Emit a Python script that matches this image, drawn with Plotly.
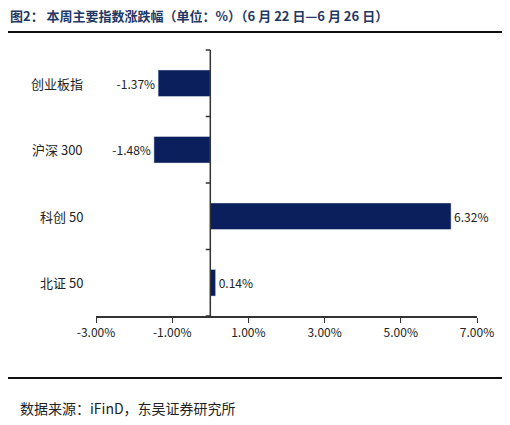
import plotly.graph_objects as go

# data
categories = ["创业板指", "沪深 300", "科创 50", "北证 50"]
changes = [-1.37, -1.48, 6.32, 0.14]
tick_vals = [-3, -1, 1, 3, 5, 7]
tick_text = ["-3.00%", "-1.00%", "1.00%", "3.00%", "5.00%", "7.00%"]

navy = "#0b1f5c"
font_cjk = "Noto Sans CJK SC"
W, H = 510, 425
off = 8  # page offset seen in the render
ml, mr, mt, mb = 96 - off, 33 + off, 50 - off, 109 + off
pw, ph = W - ml - mr, H - mt - mb


def px(x):
    return (x - off - ml) / pw


def py(y):
    return (H - mb - (y - off)) / ph


fig = go.Figure()
fig.add_trace(go.Bar(
    x=changes, y=categories, orientation="h",
    marker=dict(color=navy), width=0.4,
    text=[f"{v:.2f}%" for v in changes],
    textposition="outside", cliponaxis=False,
    textfont=dict(family=font_cjk, size=12, color="#222"),
))

fig.update_xaxes(range=[-3, 7], tickvals=tick_vals, ticktext=tick_text,
                 showgrid=False, zeroline=False, showline=True, linecolor="#333",
                 linewidth=1.5, ticks="outside", ticklen=5, tickcolor="#333",
                 tickfont=dict(family=font_cjk, size=12, color="#222"))
fig.update_yaxes(categoryorder="array", categoryarray=categories[::-1],
                 range=[-0.5, 3.5], showticklabels=False, showgrid=False,
                 zeroline=False, showline=False)

shapes = [dict(type="line", xref="x", yref="paper", x0=0, x1=0, y0=0, y1=1,
               line=dict(color="#333", width=1.5))]
for k in range(5):
    shapes.append(dict(type="line", xref="x", yref="paper", x0=-0.12, x1=0, y0=k / 4, y1=k / 4,
                       line=dict(color="#333", width=1.5)))
# title and footer rules
for ly in [32, 378]:
    shapes.append(dict(type="line", xref="paper", yref="paper",
                       x0=px(5), x1=px(505), y0=py(ly), y1=py(ly),
                       line=dict(color="#111", width=2)))

ann = []
for c in categories:
    ann.append(dict(x=px(85), xref="paper", y=c, yref="y",
                    text=c, showarrow=False, xanchor="right",
                    font=dict(family=font_cjk, size=13, color="#222")))
ann.append(dict(x=px(8), y=py(16), xref="paper", yref="paper", xanchor="left", yanchor="middle",
                text="<b>图2：</b> <b>本周主要指数涨跌幅（单位：%）（6 月 22 日—6 月 26 日）</b>",
                showarrow=False, font=dict(family=font_cjk, size=13, color="#1f3864")))
ann.append(dict(x=px(18), y=py(408), xref="paper", yref="paper", xanchor="left", yanchor="middle",
                text="数据来源：iFinD，东吴证券研究所", showarrow=False,
                font=dict(family=font_cjk, size=14, color="#222")))

fig.update_layout(width=W, height=H, margin=dict(l=ml, r=mr, t=mt, b=mb),
                  plot_bgcolor="white", paper_bgcolor="white", showlegend=False,
                  shapes=shapes, annotations=ann)

fig.write_html("out.html")
